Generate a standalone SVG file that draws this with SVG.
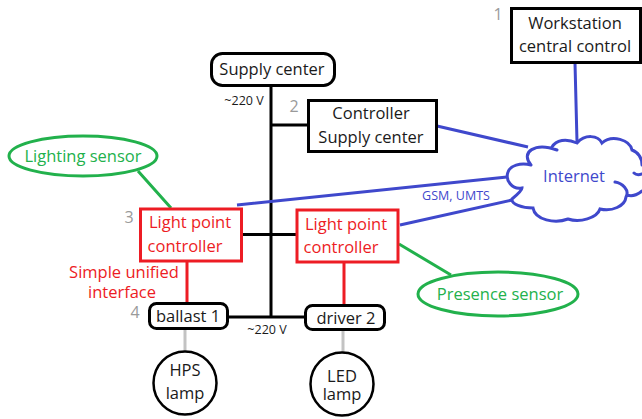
<svg xmlns="http://www.w3.org/2000/svg" width="642" height="419" viewBox="0 0 642 419">
<style>
text{font-family:"Open Sans","Noto Sans",sans-serif;font-size:16.500px;text-anchor:middle;fill:#1a1a1a}
.box{fill:#fff;stroke:#000;stroke-width:3}
.red{fill:#fff;stroke:#ed1c24;stroke-width:3}
.grn{fill:#fff;stroke:#22b14c;stroke-width:3}
.lamp{fill:#fff;stroke:#000;stroke-width:2.500}
.cl{fill:none;stroke-width:3;stroke-linecap:round}
.k{stroke:#000}.b{stroke:#3f48cc}.r{stroke:#ed1c24}.g{stroke:#22b14c}.y{stroke:#c3c3c3}
.n{fill:#9a9a9a;font-size:16px}
.rt{fill:#ed1c24}.gt{fill:#22b14c}.bt{fill:#3f48cc}
.s{font-size:12.500px}
</style>
<g id="connectors" fill="none">
<path class="cl k" style="stroke-linecap:butt" d="M271 86V317M271 125H308M242 234.500H296M228 317H306"/>
<path class="cl r" style="stroke-linecap:butt" d="M187 261V303M344 262V305"/>
<path class="cl y" style="stroke-linecap:butt" d="M185 329V352M343 330V353"/>
<path class="cl g" style="stroke-linecap:butt" d="M138 171L171 208M399 244L451 275"/>
<path class="cl b" style="stroke-linecap:butt" d="M575 63L577 142M437 126L528 147M237 205L507 177M400 225L512 200"/>
</g>
<g id="internet">
<path class="cl b" d="M531 165C520 152 535 142 557 150M552 147C556 140 566 138 577 143C585 134 598 135 602 143C612 134 630 140 632 150C638 152 642 158 642 165M634 173C636 175 639 175 642 174M642 191C636 196 630 196 627 195M615 182C622 183 630 190 626 197C625 206 612 212 600 209C597 218 580 223 568 219C555 224 535 220 533 208C522 208 511 204 512 199C518 194 522 190 522 188C512 190 505 180 508 172C510 166 520 162 531 165"/>
<text class="bt" x="574" y="182">Internet</text>
</g>
<g id="workstation">
<rect class="box" x="511.500" y="8.500" width="129" height="54"/>
<text x="575" y="29">Workstation</text><text x="575" y="52">central control</text>
<text class="n" x="498" y="20">1</text>
</g>
<g id="supply-center">
<rect class="box" x="211.500" y="53.500" width="123" height="32" rx="11"/>
<text x="272" y="75">Supply center</text>
<text class="s" x="244" y="105">~220 V</text>
</g>
<g id="controller">
<rect class="box" x="308.500" y="100.500" width="128" height="51"/>
<text x="371" y="119">Controller</text><text x="371" y="143">Supply center</text>
<text class="n" x="294" y="112">2</text>
</g>
<g id="lighting-sensor">
<ellipse class="grn" cx="83" cy="156" rx="74" ry="20"/>
<text class="gt" x="83" y="162">Lighting sensor</text>
</g>
<g id="light-point-1">
<rect class="red" x="140.500" y="209" width="101" height="52"/>
<text class="rt" x="190" y="228">Light point</text><text class="rt" x="185" y="252">controller</text>
<text class="n" x="129" y="223">3</text>
</g>
<g id="light-point-2">
<rect class="red" x="297" y="210" width="101" height="52"/>
<text class="rt" x="346" y="230">Light point</text><text class="rt" x="341" y="253">controller</text>
</g>
<text id="interface-1" class="rt" x="124" y="278">Simple unified</text>
<text id="interface-2" class="rt" x="122" y="298">interface</text>
<text id="gsm" class="bt s" x="456" y="200">GSM, UMTS</text>
<g id="presence-sensor">
<ellipse class="grn" cx="498" cy="294" rx="80" ry="22"/>
<text class="gt" x="500" y="300">Presence sensor</text>
</g>
<g id="ballast">
<rect class="box" x="149.500" y="303.500" width="78" height="25" rx="7"/>
<text x="188" y="322">ballast 1</text>
<text class="n" x="135" y="318">4</text>
</g>
<g id="driver">
<rect class="box" x="305.500" y="305.500" width="79" height="24" rx="7"/>
<text x="346" y="324">driver 2</text>
</g>
<text id="v220" class="s" x="267" y="334">~220 V</text>
<g id="hps">
<circle class="lamp" cx="185" cy="383" r="31.500"/>
<text x="185" y="376">HPS</text><text x="185" y="399">lamp</text>
</g>
<g id="led">
<circle class="lamp" cx="342" cy="384" r="31.500"/>
<text x="342" y="382">LED</text><text x="342" y="400">lamp</text>
</g>
</svg>
